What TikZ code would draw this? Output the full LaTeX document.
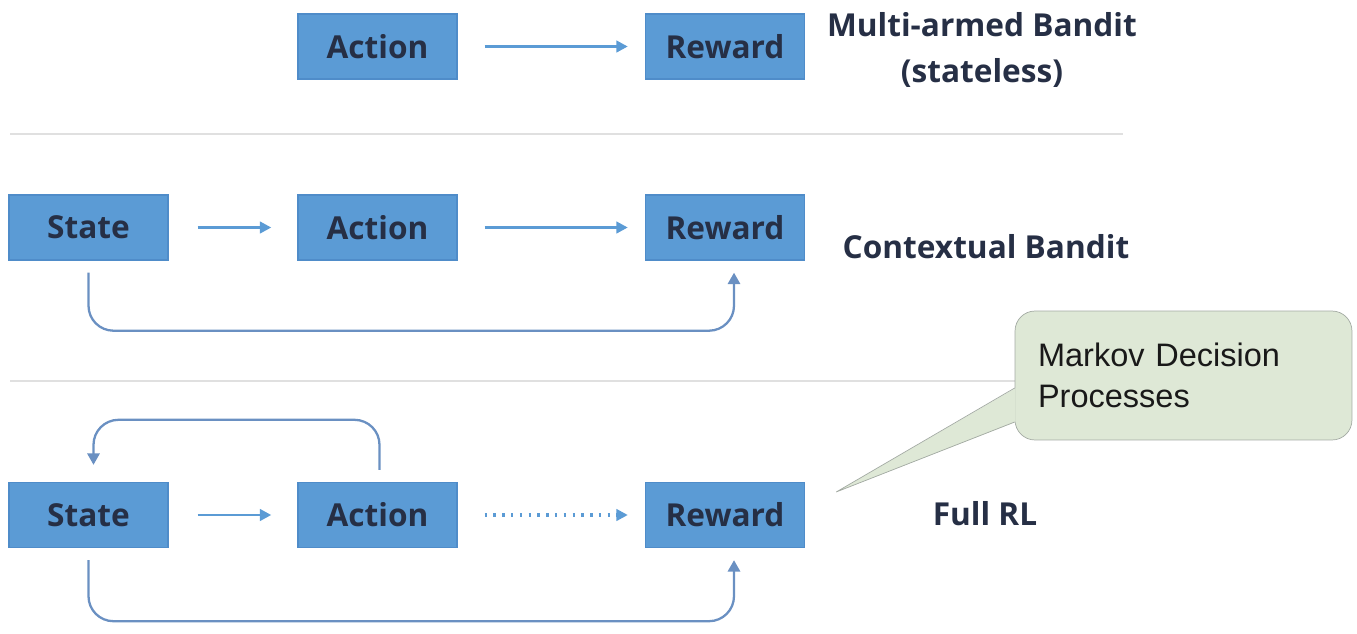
\documentclass[tikz,border=0pt]{standalone}
\usepackage{fontspec}
\setmainfont{Open Sans}
\newfontfamily\notefont{Liberation Sans}
\usetikzlibrary{positioning,calc,arrows.meta}
\definecolor{boxblue}{HTML}{5B9BD5}
\definecolor{boxedge}{HTML}{4F8CC9}
\definecolor{inkdark}{HTML}{262F45}
\definecolor{loopblue}{HTML}{6A90C2}
\definecolor{notegreen}{HTML}{DEE8D6}
\definecolor{noteedge}{HTML}{A3AAA3}

\tikzset{
  block/.style={draw=boxedge, fill=boxblue, line width=0.8pt, minimum width=3.18cm, minimum height=1.3cm,
    inner sep=0pt, font=\fontsize{18}{22}\selectfont\bfseries, text=inkdark},
  caption/.style={font=\fontsize{18}{26.5}\selectfont\bfseries, text=inkdark, align=center},
  flow/.style={draw=boxblue, line width=1.6pt, -{Triangle[length=6.5pt,width=6.5pt]}},
  back/.style={draw=loopblue, line width=1.3pt, rounded corners=0.5cm, -{Triangle[length=6.5pt,width=7pt]}},
  divider/.style={draw=black!12, line width=0.6pt},
  note/.style={draw=noteedge, fill=notegreen, rounded corners=0.4cm, minimum width=6.74cm, minimum height=2.58cm,
    text width=5.82cm, inner xsep=0.46cm, align=left, font=\notefont\fontsize{18.5}{23}\selectfont, text=black!90},
}

\begin{document}
\begin{tikzpicture}[x=0.02cm, y=-0.02cm]
    \useasboundingbox (0,0) rectangle (1357,633);

    % Multi-armed bandit
    \node [block] (a1) at (377.5,46.5) {Action};
    \node [block] (r1) at (725,46.5) {Reward};
    \draw [flow, shorten <=0.54cm, shorten >=0.34cm] (a1) -- (r1);
    \node [caption] (mab) at (982,50) {Multi-armed Bandit\\(stateless)};

    \draw [divider] (10,134) -- (1123,134);

    % Contextual bandit
    \node [block] (s2) at (88.5,227.5) {State};
    \node [block] (a2) at (377.5,227.5) {Action};
    \node [block] (r2) at (725,227.5) {Reward};
    \draw [flow, shorten <=0.58cm, shorten >=0.52cm] (s2) -- (a2);
    \draw [flow, shorten <=0.54cm, shorten >=0.34cm] (a2) -- (r2);
    \draw [back] ($(s2.south)+(0,12)$) -- ++(0,58) -| ($(r2.south)+(9,12)$);
    \node [caption] (cb) at (986,247) {Contextual Bandit};

    \draw [divider] (10,381) -- (1123,381);

    % Full RL
    \node [block] (s3) at (88.5,515) {State};
    \node [block] (a3) at (377.5,515) {Action};
    \node [block] (r3) at (725,515) {Reward};
    \draw [flow, shorten <=0.58cm, shorten >=0.52cm] (s3) -- (a3);
    \draw [flow, line width=2.2pt, dash pattern=on 1.4pt off 3.6pt, shorten <=0.54cm, shorten >=0.34cm] (a3) -- (r3); % dotted
    \draw [back] ($(a3.north)+(2,-12)$) -- ++(0,-50) -| ($(s3.north)+(5,-17)$);
    \draw [back] ($(s3.south)+(0,12)$) -- ++(0,61) -| ($(r3.south)+(9,12)$);
    \node [caption] (frl) at (985,514) {Full RL};

    % Callout
    \node [note] (mdp) at (1183.5,375.5) {Markov Decision\\Processes};
    \coordinate (tip) at ($(r3.east)+(31,-23)$);
    \fill [notegreen] ($(mdp.west)+(1,12.5)$) -- (tip) -- ($(mdp.west)+(1,46.5)$) -- cycle;
    \draw [noteedge] ($(mdp.west)+(0,12.5)$) -- (tip) -- ($(mdp.west)+(0,46.5)$);
\end{tikzpicture}
\end{document}
